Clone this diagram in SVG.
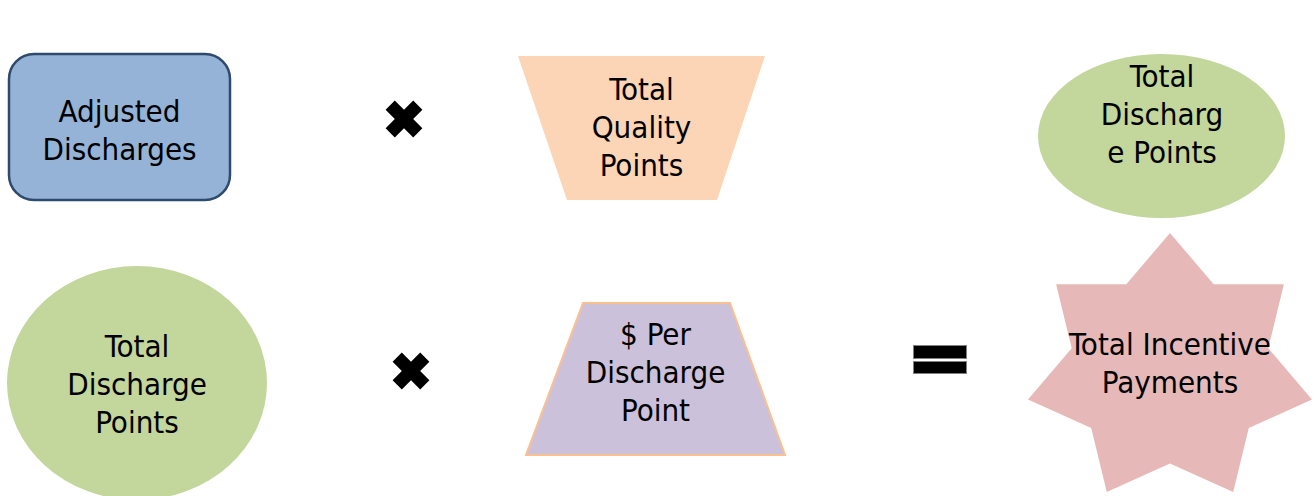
<svg xmlns="http://www.w3.org/2000/svg" width="1315" height="496" viewBox="0 0 1315 496">
<style>
  .t { font-family: "DejaVu Sans Condensed", "DejaVu Sans", sans-serif; font-size: 31px; fill: #000; text-anchor: middle; }
  .op { fill: #000; }
  .eq { fill: #000; stroke: #808080; stroke-width: 1; }
</style>
<defs>
  <polygon id="mul" points="6.5,-6.5 19.5,-6.5 19.5,6.5 6.5,6.5 6.5,19.5 -6.5,19.5 -6.5,6.5 -19.5,6.5 -19.5,-6.5 -6.5,-6.5 -6.5,-19.5 6.5,-19.5"/>
</defs>
<rect width="1315" height="496" fill="#ffffff"/>

<g id="adjusted-discharges">
  <rect x="9" y="54" width="221" height="146" rx="25" ry="25" fill="#95B3D7" stroke="#2E4B6E" stroke-width="2.5"/>
  <text class="t" x="119.5" y="122">Adjusted</text>
  <text class="t" x="119.5" y="160">Discharges</text>
</g>

<g id="multiply-1">
  <use href="#mul" class="op" transform="translate(404,119) rotate(45)"/>
</g>

<g id="total-quality-points">
  <polygon points="518,56 765,56 717,200 567,200" fill="#FBD5B5"/>
  <text class="t" x="641.5" y="100">Total</text>
  <text class="t" x="641.5" y="138">Quality</text>
  <text class="t" x="641.5" y="176">Points</text>
</g>

<g id="total-discharge-points-top">
  <ellipse cx="1161.5" cy="136" rx="123.5" ry="82" fill="#C3D69B"/>
  <text class="t" x="1162" y="87">Total</text>
  <text class="t" x="1162" y="125">Discharg</text>
  <text class="t" x="1162" y="163">e Points</text>
</g>

<g id="total-discharge-points-bottom">
  <ellipse cx="137" cy="383" rx="130" ry="117" fill="#C3D69B"/>
  <text class="t" x="137" y="357">Total</text>
  <text class="t" x="137" y="395">Discharge</text>
  <text class="t" x="137" y="433">Points</text>
</g>

<g id="multiply-2">
  <use href="#mul" class="op" transform="translate(411,371) rotate(45)"/>
</g>

<g id="per-discharge-point">
  <polygon points="583,303 730,303 785,455 526,455" fill="#CCC1DA" stroke="#FAC090" stroke-width="2"/>
  <text class="t" x="655.5" y="345">$ Per</text>
  <text class="t" x="655.5" y="383">Discharge</text>
  <text class="t" x="655.5" y="421">Point</text>
</g>

<g id="equals">
  <rect class="eq" x="913.5" y="345.5" width="53" height="13"/>
  <rect class="eq" x="913.5" y="361.5" width="53" height="12"/>
</g>

<g id="total-incentive-payments">
  <polygon points="1170,233 1213.7,284.2 1283.9,284.3 1268.3,348.2 1312,399.5 1248.8,428 1233.2,491.9 1170,463.5 1106.8,491.9 1091.2,428 1028,399.5 1071.7,348.2 1056.1,284.3 1126.3,284.2" fill="#E6B9B8"/>
  <text class="t" x="1170" y="355">Total Incentive</text>
  <text class="t" x="1170" y="393">Payments</text>
</g>

<g id="connectors"></g>
</svg>
